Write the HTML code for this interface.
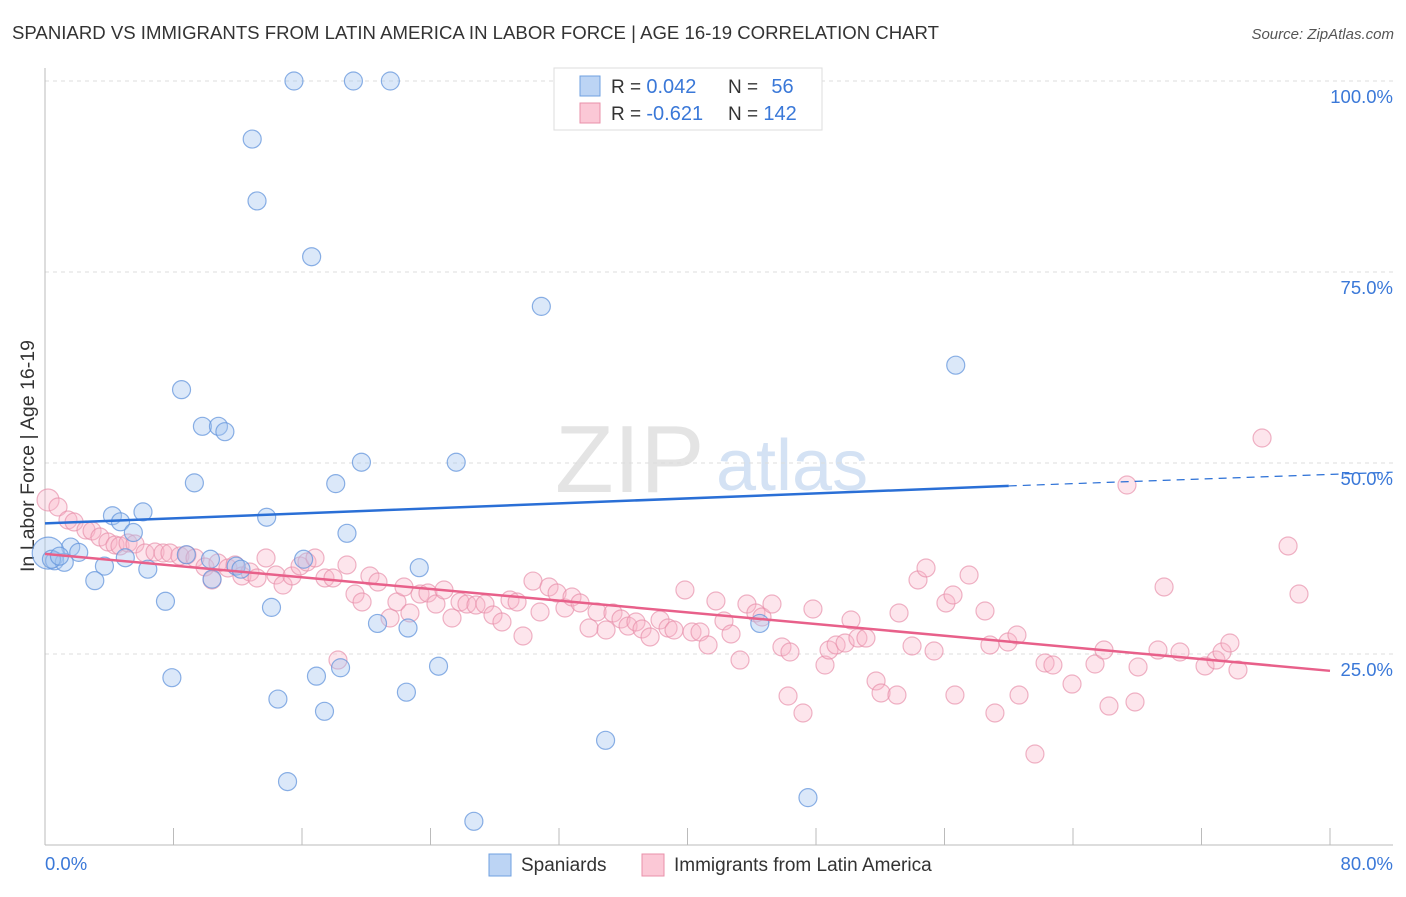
<!DOCTYPE html>
<html><head><meta charset="utf-8"><style>
body{margin:0;background:#fff;font-family:"Liberation Sans",sans-serif;}
svg text{font-family:"Liberation Sans",sans-serif;}
</style></head><body>
<svg id="chart" width="1406" height="892" viewBox="0 0 1406 892">
<text x="12" y="39" font-size="18" fill="#333" textLength="927" lengthAdjust="spacingAndGlyphs">SPANIARD VS IMMIGRANTS FROM LATIN AMERICA IN LABOR FORCE | AGE 16-19 CORRELATION CHART</text>
<text x="1394" y="39" font-size="15" fill="#555" font-style="italic" text-anchor="end">Source: ZipAtlas.com</text>
<text x="555" y="492" font-size="96" fill="#e4e4e4" font-family="Liberation Serif">ZIP</text>
<text x="716" y="490" font-size="72" fill="#d4e2f4">atlas</text>
<text transform="translate(34,456) rotate(-90)" font-size="19" fill="#333" text-anchor="middle" textLength="232" lengthAdjust="spacingAndGlyphs">In Labor Force | Age 16-19</text>
<g id="grid"></g><g id="axes"></g><g id="pts"></g><g id="lines"></g>
<g>
<rect x="554" y="68" width="268" height="62" fill="#fff" stroke="#ddd"/>
<rect x="580" y="76" width="20" height="20" fill="#bcd4f4" stroke="#6fa0e0"/>
<rect x="580" y="103" width="20" height="20" fill="#fbc8d6" stroke="#e890aa"/>
<text x="611" y="93" font-size="19" fill="#333">R = <tspan fill="#3a78d8" font-size="20">0.042</tspan></text>
<text x="728" y="93" font-size="19" fill="#333">N = <tspan fill="#3a78d8" dx="8" font-size="20">56</tspan></text>
<text x="611" y="120" font-size="19" fill="#333">R = <tspan fill="#3a78d8" font-size="20">-0.621</tspan></text>
<text x="728" y="120" font-size="19" fill="#333">N = <tspan fill="#3a78d8" font-size="20">142</tspan></text>
</g>
<g>
<rect x="489" y="854" width="22" height="22" fill="#bcd4f4" stroke="#6fa0e0"/>
<text x="521" y="871" font-size="19" fill="#333">Spaniards</text>
<rect x="642" y="854" width="22" height="22" fill="#fbc8d6" stroke="#e890aa"/>
<text x="674" y="871" font-size="19" fill="#333">Immigrants from Latin America</text>
</g>
</svg>
<script>
const blueX=[15.5,19.2,21.5,12.9,13.2,16.6,30.9,56.7,8.5,9.8,10.8,11.2,19.7,25.6,9.3,18.1,6.1,4.2,4.7,13.8,5.5,18.8,1.6,2.1,0.2,0.6,1.2,5.0,3.7,6.4,8.8,11.9,12.2,10.3,3.1,16.1,23.3,7.5,14.1,20.7,22.6,44.5,24.5,18.4,16.9,7.9,14.5,22.5,17.4,34.9,15.1,47.5,26.7,0.4,0.9,10.4];
const blueY=[100,100,100,92.4,84.3,77.0,70.5,62.8,59.6,54.8,54.8,54.1,50.1,50.1,47.4,47.3,43.6,43.1,42.3,42.9,40.9,40.8,39.0,38.3,38.2,37.2,37.0,37.6,36.5,36.1,38.0,36.5,36.1,37.4,34.6,37.4,36.3,31.9,31.1,29.0,28.4,29.0,23.4,23.2,22.1,21.9,19.1,20.0,17.5,13.7,8.3,6.2,3.1,37.4,37.8,34.8];
const blueR=[9,9,9,9,9,9,9,9,9,9,9,9,9,9,9,9,9,9,9,9,9,9,9,9,16,9,9,9,9,9,9,9,9,9,9,9,9,9,9,9,9,9,9,9,9,9,9,9,9,9,9,9,9,9,9,9];
const pinkPx=[[48,500],[58,507],[68,520],[74,522],[86,530],[92,531],[100,537],[108,542],[115,545],[120,546],[128,543],[135,544],[145,553],[155,552],[163,553],[170,553],[180,556],[187,555],[195,558],[205,567],[212,580],[218,563],[228,568],[235,565],[242,576],[250,572],[257,578],[266,558],[276,575],[283,585],[292,576],[300,566],[307,562],[315,558],[325,578],[333,578],[338,660],[347,565],[355,594],[362,602],[370,576],[378,582],[390,618],[397,602],[404,587],[410,613],[420,594],[428,593],[436,604],[444,590],[452,618],[460,602],[467,604],[476,605],[485,604],[493,615],[502,622],[510,600],[517,602],[523,636],[533,581],[540,612],[549,587],[557,593],[565,608],[572,597],[580,603],[589,628],[597,612],[606,630],[613,613],[621,619],[628,626],[636,622],[642,629],[650,637],[660,620],[668,628],[674,630],[685,590],[692,632],[700,632],[708,645],[716,601],[724,621],[731,634],[740,660],[747,604],[756,613],[762,617],[772,604],[782,647],[788,696],[790,652],[803,713],[813,609],[825,665],[829,650],[836,645],[845,643],[851,620],[858,638],[866,638],[876,681],[881,693],[897,695],[899,613],[912,646],[918,580],[926,568],[934,651],[946,603],[953,595],[955,695],[969,575],[985,611],[990,645],[995,713],[1008,642],[1017,635],[1019,695],[1035,754],[1045,663],[1053,665],[1072,684],[1095,664],[1104,650],[1109,706],[1127,485],[1138,667],[1135,702],[1158,650],[1164,587],[1180,652],[1205,666],[1216,660],[1222,652],[1230,643],[1238,670],[1262,438],[1288,546],[1299,594]];
const pinkX=pinkPx.map(p=>+((p[0]-45)/16.0625).toFixed(2));
const pinkY=pinkPx.map(p=>+((845-p[1])/7.64).toFixed(2));
const yTicks=[25,50,75,100];
const yTickLabels=["25.0%","50.0%","75.0%","100.0%"];
const xTicks=[8,16,24,32,40,48,56,64,72,80];
const blueTrend=[[0,42.1],[60,47.0],[83.9,48.8]];
const pinkTrend=[[0,38.1],[80,22.8]];

const NS="http://www.w3.org/2000/svg";
const sx=v=>45+v*16.0625, sy=v=>845-v*7.64;
function mk(tag,attrs,parent){const e=document.createElementNS(NS,tag);for(const k in attrs)e.setAttribute(k,attrs[k]);parent.appendChild(e);return e;}
const grid=document.getElementById('grid'),axes=document.getElementById('axes'),pts=document.getElementById('pts'),lines=document.getElementById('lines');
yTicks.forEach((t,i)=>{
 const l=mk('line',{x1:45,x2:1393,y1:sy(t),y2:sy(t),stroke:'#ddd','stroke-dasharray':'4,4'},grid);
 
 
 const tx=mk('text',{x:1393,y:sy(t)+22,'font-size':18.5,fill:'#3a78d8','text-anchor':'end'},grid);
 tx.textContent=yTickLabels[i];
 
 
});
const ya=mk('line',{x1:45,x2:45,y1:68,y2:845,stroke:'#bbb'},axes);


const xa=mk('line',{x1:45,x2:1393,y1:845,y2:845,stroke:'#bbb'},axes);


xTicks.forEach(t=>{
 const l=mk('line',{x1:sx(t),x2:sx(t),y1:828,y2:845,stroke:'#bbb'},axes);
 
 
});
[[0,'0.0%','start',45],[80,'80.0%','end',1393]].forEach(d=>{
 const t=mk('text',{x:d[3],y:870,'font-size':18.5,fill:'#3a78d8','text-anchor':d[2]},axes);
 t.textContent=d[1];
 
 
});
pinkX.forEach((x,i)=>{
 const c=mk('circle',{cx:sx(x),cy:sy(pinkY[i]),r:i==0?11:9,fill:'rgba(248,180,200,0.35)',stroke:'rgba(230,140,168,0.65)','stroke-width':1.2},pts);
 
 
});
blueX.forEach((x,i)=>{
 const c=mk('circle',{cx:sx(x),cy:sy(blueY[i]),r:blueR[i],fill:'rgba(165,198,240,0.4)',stroke:'rgba(100,150,220,0.75)','stroke-width':1.2},pts);
 
 
});
const b1=mk('line',{x1:sx(blueTrend[0][0]),y1:sy(blueTrend[0][1]),x2:sx(blueTrend[1][0]),y2:sy(blueTrend[1][1]),stroke:'#2a6fd6','stroke-width':2.5},lines);


const b2=mk('line',{x1:sx(blueTrend[1][0]),y1:sy(blueTrend[1][1]),x2:sx(blueTrend[2][0]),y2:sy(blueTrend[2][1]),stroke:'#2a6fd6','stroke-width':1.2,'stroke-dasharray':'8,6'},lines);


const p1=mk('line',{x1:sx(pinkTrend[0][0]),y1:sy(pinkTrend[0][1]),x2:sx(pinkTrend[1][0]),y2:sy(pinkTrend[1][1]),stroke:'#e8608a','stroke-width':2.5},lines);


</script>
</body></html>
